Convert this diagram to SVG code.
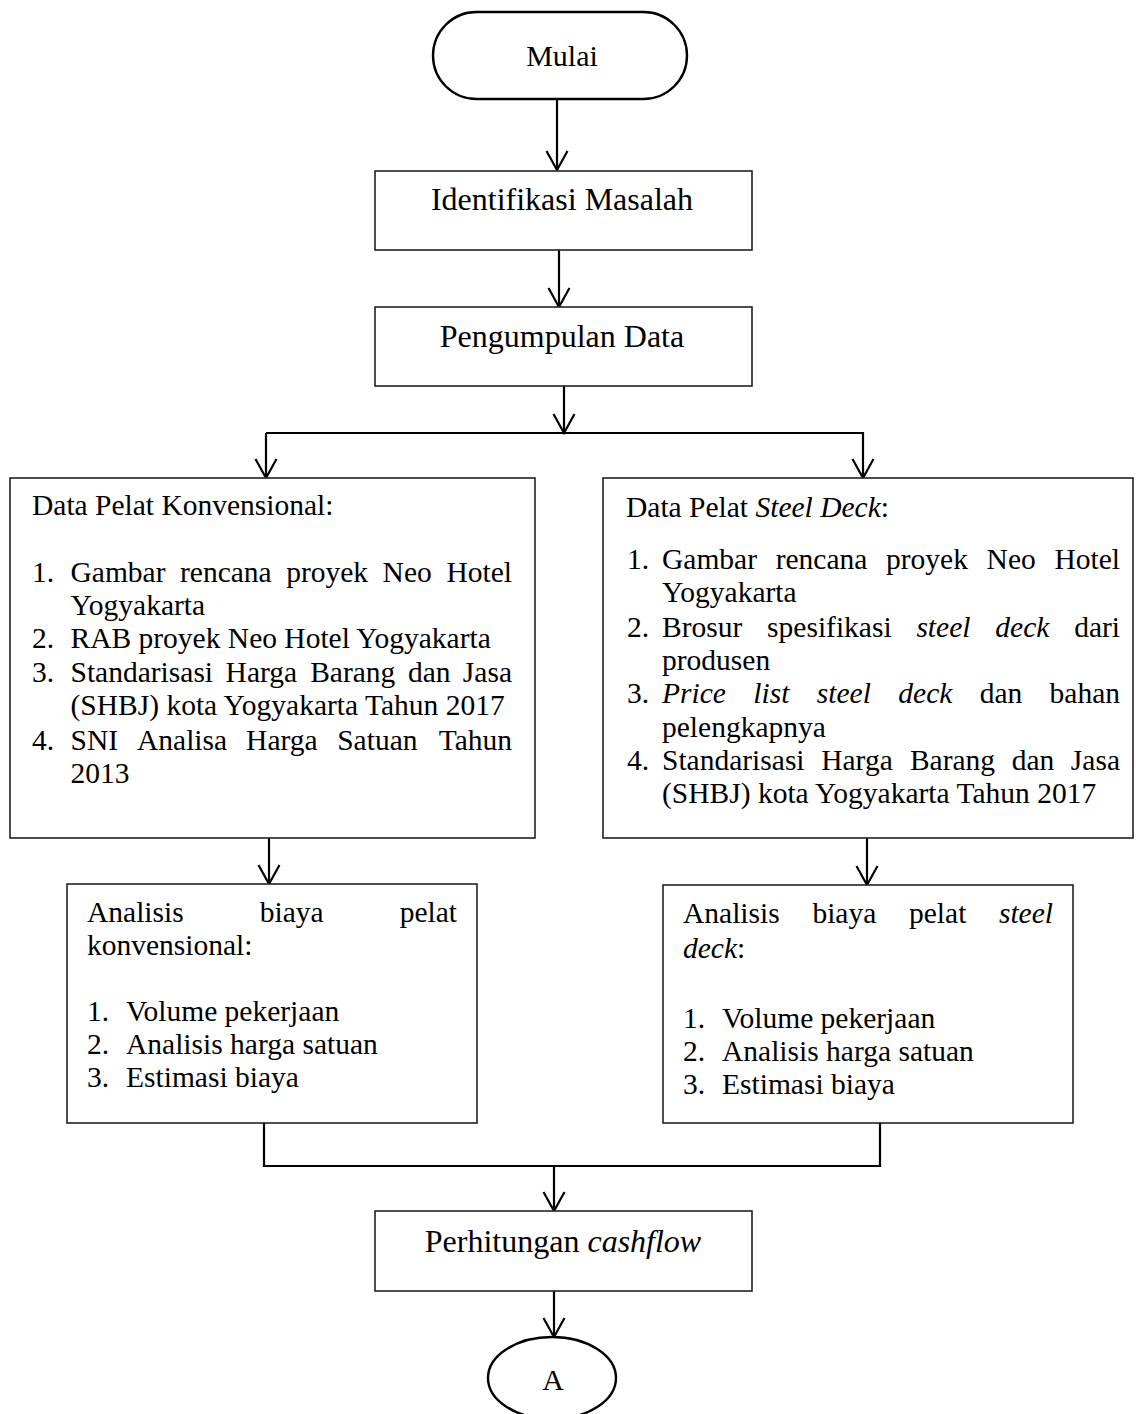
<svg xmlns="http://www.w3.org/2000/svg" width="1136" height="1414" viewBox="0 0 1136 1414">
<defs>
<style>
.box{fill:#fff;stroke:#222;stroke-width:1.6}
.term{fill:#fff;stroke:#000;stroke-width:2.4}
.t{font-family:"Liberation Serif","Times New Roman",serif;fill:#000}
.big{font-size:32px}
.sm{font-size:29.5px}
.i{font-style:italic}
.c{text-anchor:middle}
.con{fill:none;stroke:#000;stroke-width:2.2}
</style>
<marker id="arr" viewBox="-21 -12 23 24" refX="0" refY="0" markerWidth="23" markerHeight="24" markerUnits="userSpaceOnUse" orient="auto">
<path d="M-19,-10.5 L0,0 L-19,10.5" fill="none" stroke="#000" stroke-width="2.2"/>
</marker>
</defs>
<rect width="1136" height="1414" fill="#fff"/>

<g id="connectors">
<line class="con" x1="557" y1="99" x2="557" y2="170" marker-end="url(#arr)"/>
<line class="con" x1="559" y1="250" x2="559" y2="307" marker-end="url(#arr)"/>
<line class="con" x1="564" y1="386" x2="564" y2="433" marker-end="url(#arr)"/>
<polyline class="con" points="266,433 863,433 863,478" marker-end="url(#arr)"/>
<line class="con" x1="266" y1="433" x2="266" y2="478" marker-end="url(#arr)"/>
<line class="con" x1="269" y1="838" x2="269" y2="884" marker-end="url(#arr)"/>
<line class="con" x1="867" y1="838" x2="867" y2="885" marker-end="url(#arr)"/>
<polyline class="con" points="264,1123 264,1166 880,1166 880,1123"/>
<line class="con" x1="554" y1="1166" x2="554" y2="1211" marker-end="url(#arr)"/>
<line class="con" x1="554" y1="1291" x2="554" y2="1337" marker-end="url(#arr)"/>
</g>

<g id="mulai">
<rect class="term" x="433" y="12" width="254" height="87" rx="43.5" ry="43.5"/>
<text class="t c" x="562" y="66" font-size="30">Mulai</text>
</g>

<g id="identifikasi">
<rect class="box" x="375" y="171" width="377" height="79"/>
<text class="t big c" x="562" y="210">Identifikasi Masalah</text>
</g>

<g id="pengumpulan">
<rect class="box" x="375" y="307" width="377" height="79"/>
<text class="t big c" x="562" y="347">Pengumpulan Data</text>
</g>

<g id="data-konvensional">
<rect class="box" x="10" y="478" width="525" height="360"/>
<text class="t sm" x="32" y="515">Data Pelat Konvensional:</text>
<text class="t sm" y="582"><tspan x="32">1.</tspan><tspan x="70.5">Gambar</tspan><tspan x="180">rencana</tspan><tspan x="286.2">proyek</tspan><tspan x="382.6">Neo</tspan><tspan x="512" text-anchor="end">Hotel</tspan></text>
<text class="t sm" x="70.5" y="615">Yogyakarta</text>
<text class="t sm" y="648"><tspan x="32">2.</tspan><tspan x="70.5">RAB proyek Neo Hotel Yogyakarta</tspan></text>
<text class="t sm" y="682"><tspan x="32">3.</tspan><tspan x="70.5">Standarisasi</tspan><tspan x="225.6">Harga</tspan><tspan x="310.2">Barang</tspan><tspan x="407.9">dan</tspan><tspan x="512" text-anchor="end">Jasa</tspan></text>
<text class="t sm" x="70.5" y="715">(SHBJ) kota Yogyakarta Tahun 2017</text>
<text class="t sm" y="750"><tspan x="32">4.</tspan><tspan x="70.5">SNI</tspan><tspan x="137">Analisa</tspan><tspan x="246.1">Harga</tspan><tspan x="337.2">Satuan</tspan><tspan x="512" text-anchor="end">Tahun</tspan></text>
<text class="t sm" x="70.5" y="783">2013</text>
</g>

<g id="data-steel-deck">
<rect class="box" x="603" y="478" width="530" height="360"/>
<text class="t sm" x="626" y="517">Data Pelat <tspan class="i">Steel Deck</tspan>:</text>
<text class="t sm" y="569"><tspan x="627">1.</tspan><tspan x="662">Gambar</tspan><tspan x="775.7">rencana</tspan><tspan x="886">proyek</tspan><tspan x="986.6">Neo</tspan><tspan x="1120" text-anchor="end">Hotel</tspan></text>
<text class="t sm" x="662" y="602">Yogyakarta</text>
<text class="t sm" y="637"><tspan x="627">2.</tspan><tspan x="662">Brosur</tspan><tspan x="767.1">spesifikasi</tspan><tspan x="916.4" class="i">steel</tspan><tspan x="995.3" class="i">deck</tspan><tspan x="1120" text-anchor="end">dari</tspan></text>
<text class="t sm" x="662" y="670">produsen</text>
<text class="t sm" y="703"><tspan x="627">3.</tspan><tspan x="662" class="i">Price</tspan><tspan x="753.3" class="i">list</tspan><tspan x="816.8" class="i">steel</tspan><tspan x="898.3" class="i">deck</tspan><tspan x="979.7">dan</tspan><tspan x="1120" text-anchor="end">bahan</tspan></text>
<text class="t sm" x="662" y="737">pelengkapnya</text>
<text class="t sm" y="770"><tspan x="627">4.</tspan><tspan x="662">Standarisasi</tspan><tspan x="821.2">Harga</tspan><tspan x="909.9">Barang</tspan><tspan x="1011.7">dan</tspan><tspan x="1120" text-anchor="end">Jasa</tspan></text>
<text class="t sm" x="662" y="803">(SHBJ) kota Yogyakarta Tahun 2017</text>
</g>

<g id="analisis-konvensional">
<rect class="box" x="67" y="884" width="410" height="239"/>
<text class="t sm" y="922"><tspan x="87">Analisis</tspan><tspan x="259.7">biaya</tspan><tspan x="457" text-anchor="end">pelat</tspan></text>
<text class="t sm" x="87" y="955">konvensional:</text>
<text class="t sm" y="1021"><tspan x="87">1.</tspan><tspan x="126">Volume pekerjaan</tspan></text>
<text class="t sm" y="1054"><tspan x="87">2.</tspan><tspan x="126">Analisis harga satuan</tspan></text>
<text class="t sm" y="1087"><tspan x="87">3.</tspan><tspan x="126">Estimasi biaya</tspan></text>
</g>

<g id="analisis-steel-deck">
<rect class="box" x="663" y="885" width="410" height="238"/>
<text class="t sm" y="923"><tspan x="683">Analisis</tspan><tspan x="812.4">biaya</tspan><tspan x="909">pelat</tspan><tspan x="1053" text-anchor="end" class="i">steel</tspan></text>
<text class="t sm" x="683" y="958"><tspan class="i">deck</tspan>:</text>
<text class="t sm" y="1028"><tspan x="683">1.</tspan><tspan x="722">Volume pekerjaan</tspan></text>
<text class="t sm" y="1061"><tspan x="683">2.</tspan><tspan x="722">Analisis harga satuan</tspan></text>
<text class="t sm" y="1094"><tspan x="683">3.</tspan><tspan x="722">Estimasi biaya</tspan></text>
</g>

<g id="perhitungan">
<rect class="box" x="375" y="1211" width="377" height="80"/>
<text class="t big c" x="563" y="1252">Perhitungan <tspan class="i">cashflow</tspan></text>
</g>

<g id="konektor-a">
<ellipse class="term" cx="552" cy="1378" rx="64" ry="41"/>
<text class="t c" x="553" y="1390" font-size="30">A</text>
</g>
</svg>
